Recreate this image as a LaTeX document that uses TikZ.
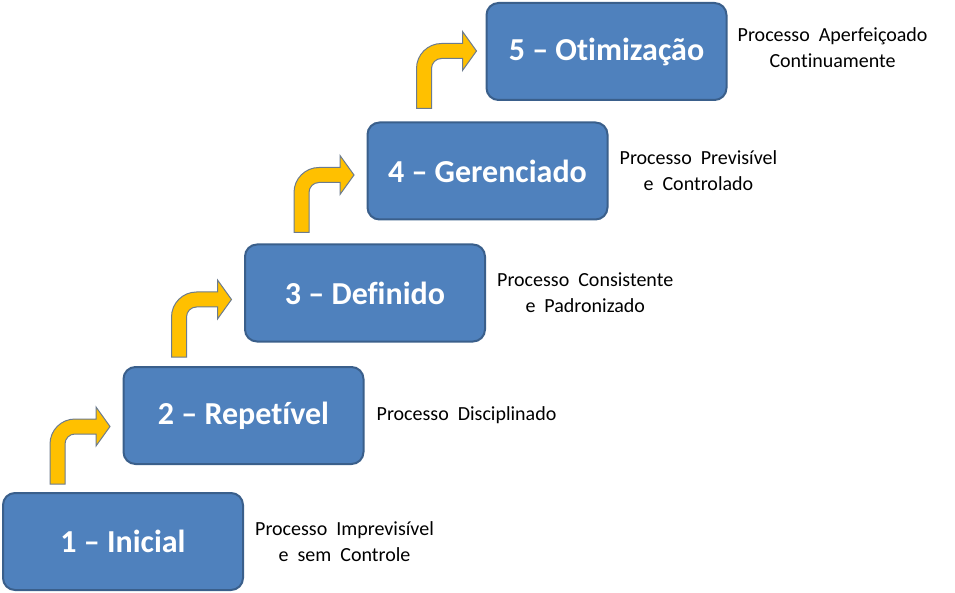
\documentclass[tikz,border=0pt]{standalone}
\usepackage{fontspec}
\setmainfont{Carlito}[Ligatures=NoCommon]
\usetikzlibrary{positioning}

\definecolor{boxblue}{HTML}{4F81BD}
\definecolor{boxedge}{HTML}{3A5F8B}
\definecolor{arrowgold}{HTML}{FFC000}
\definecolor{arrowedge}{HTML}{6B7B8F}

\newcommand\capfont{\fontsize{20}{26}\selectfont\spaceskip=9pt\relax}

\tikzset{
	stepbox/.style={rectangle,rounded corners=12pt,fill=boxblue,draw=boxedge,line width=2pt,
		minimum width=240pt,minimum height=97pt,text=white,
		font=\bfseries\fontsize{32}{37}\selectfont},
	steptext/.style={align=center,inner sep=0pt,font=\capfont},
	pics/bentarrow/.style={code={
		\draw[fill=arrowgold,draw=arrowedge,line width=1pt,line join=miter]
			(0,0) -- (0,-40) .. controls (0,-53.8) and (11.2,-65) .. (25,-65)
			-- (46,-65) -- (46,-77) -- (60,-57.5) -- (46,-38) -- (46,-50)
			-- (25,-50) .. controls (19.5,-50) and (15,-45.5) .. (15,-40) -- (15,0) -- cycle;
	}}
}

\begin{document}
\begin{tikzpicture}[x=1pt,y=-1pt]
	\useasboundingbox (0,0) rectangle (955,593);
	% the five levels
	\node[stepbox] (b1) at (123,541.5) {1 – Inicial};
	\node[stepbox] (b2) at (243.5,415.5) {2 – Repetível};
	\node[stepbox] (b3) at (365,293) {3 – Definido};
	\node[stepbox] (b4) at (487.5,171) {4 – Gerenciado};
	\node[stepbox] (b5) at (606.5,51.5) {5 – Otimização};
	% texts beside them
	\node[steptext,right=11pt of b1] (t1) {Processo Imprevisível\\e sem Controle};
	\node[steptext,right=12pt of b2] (t2) {Processo Disciplinado};
	\node[steptext,right=11pt of b3] (t3) {Processo Consistente\\e Padronizado};
	\node[steptext,right=11pt of b4] (t4) {Processo Previsível\\e Controlado};
	\node[steptext,right=10pt of b5,yshift=4pt] (t5) {Processo Aperfeiçoado\\Continuamente};
	% arrows up to the next level
	\coordinate (a1) at ([xshift=48pt,yshift=8pt]b1.north west);
	\coordinate (a2) at ([xshift=49pt,yshift=9pt]b2.north west);
	\coordinate (a3) at ([xshift=50pt,yshift=11pt]b3.north west);
	\coordinate (a4) at ([xshift=50pt,yshift=13pt]b4.north west);
	\pic at (a1) {bentarrow};
	\pic at (a2) {bentarrow};
	\pic at (a3) {bentarrow};
	\pic at (a4) {bentarrow};
\end{tikzpicture}
\end{document}
